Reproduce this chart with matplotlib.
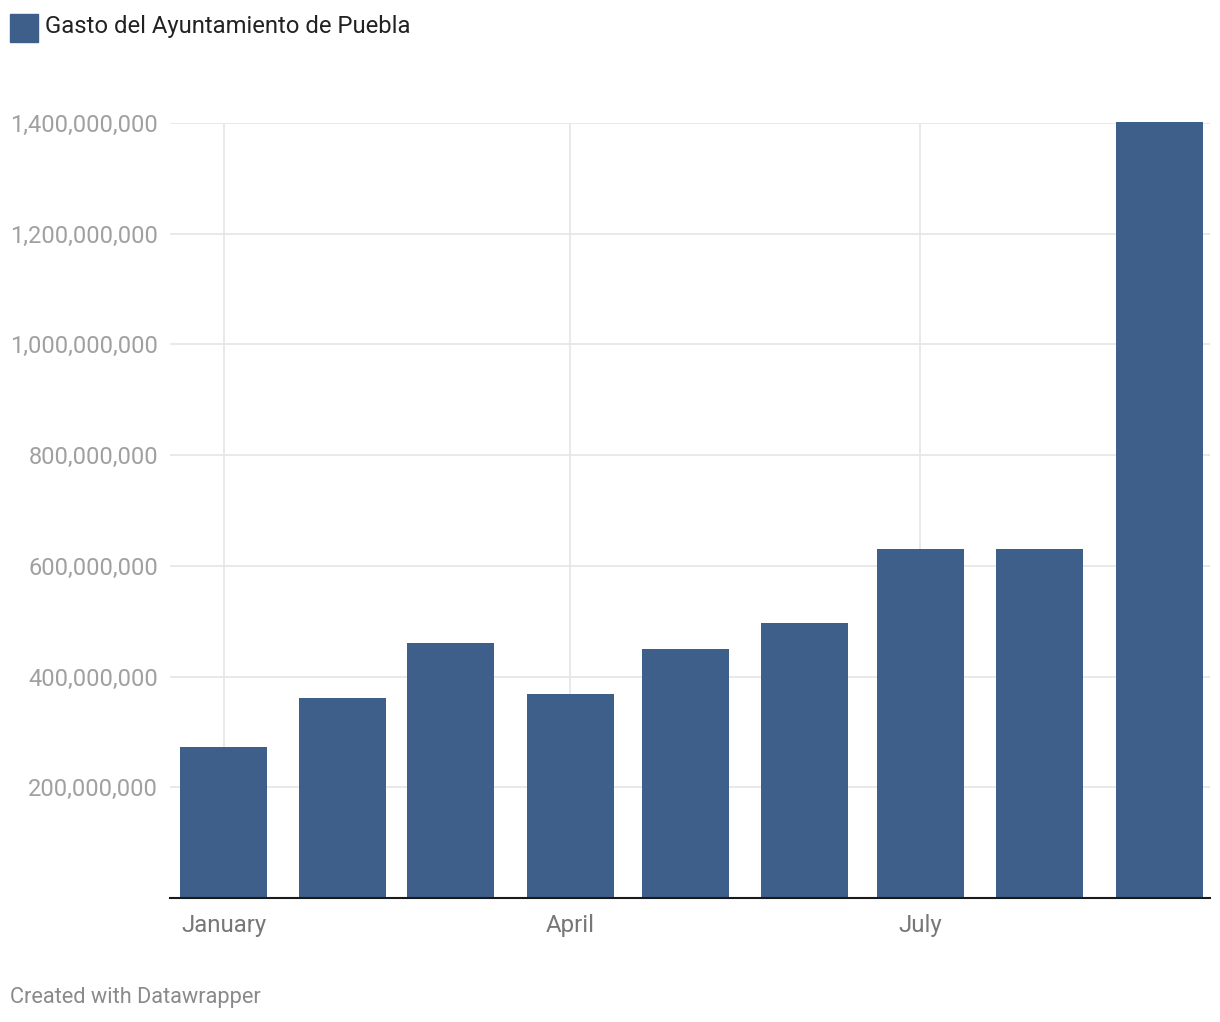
import numpy as np
import pandas as pd
import matplotlib
matplotlib.use("Agg")
import matplotlib.pyplot as plt
import matplotlib.dates as mdates
from matplotlib.ticker import FuncFormatter

plt.rcParams['font.family'] = ['Roboto', 'DejaVu Sans']

# data (monthly spending, pesos)
months = pd.to_datetime(['2019-01-01', '2019-02-01', '2019-03-01', '2019-04-01',
                         '2019-05-01', '2019-06-01', '2019-07-01', '2019-08-01',
                         '2019-09-01'])
gasto = [273e6, 361e6, 461e6, 368e6, 450e6, 497e6, 630e6, 630e6, 1402e6]
series_name = 'Gasto del Ayuntamiento de Puebla'
yticks = [200e6, 400e6, 600e6, 800e6, 1000e6, 1200e6, 1400e6]
xticks = pd.to_datetime(['2019-01-01', '2019-04-01', '2019-07-01'])
xtick_labels = ['January', 'April', 'July']

bar_color = '#3d5f8a'
W, H = 1220, 1022

fig = plt.figure(figsize=(W / 100, H / 100), dpi=100)
ax = fig.add_axes([170 / W, (H - 898) / H, 1040 / W, (898 - 123) / H])

ax.bar(months, gasto, width=22.6, color=bar_color, zorder=3, clip_on=False)

ax.set_xlim(mdates.date2num(pd.Timestamp('2018-12-18')) + 0.1,
            mdates.date2num(pd.Timestamp('2019-09-14')) + 0.2)
ax.set_ylim(0, 1.4e9)

ax.set_yticks(yticks)
ax.yaxis.set_major_formatter(FuncFormatter(lambda v, p: f'{v:,.0f}'))
ax.set_xticks(xticks)
ax.set_xticklabels(xtick_labels)

ax.grid(True, color='#e5e5e5', linewidth=1.2, zorder=0)
ax.set_axisbelow(True)
for s in ['top', 'right', 'left']:
    ax.spines[s].set_visible(False)
ax.spines['bottom'].set_color('#1a1a1a')
ax.spines['bottom'].set_linewidth(1.5)
ax.spines['bottom'].set_zorder(4)

ax.tick_params(axis='y', length=0, pad=8.6, labelsize=17, labelcolor='#a0a0a0')
ax.tick_params(axis='x', length=0, pad=11.5, labelsize=17.3, labelcolor='#777777')

# legend square + text
fig.patches.append(plt.Rectangle((10 / W, 1 - 42 / H), 28 / W, 28 / H,
                                 transform=fig.transFigure, color=bar_color))
fig.text(45 / W, 1 - 27 / H, series_name, fontsize=17.2, color='#222222',
         va='center', ha='left')

fig.text(10 / W, 1 - 997 / H, 'Created with Datawrapper', fontsize=15.7,
         color='#8a8a8a', va='center', ha='left')

fig.savefig('out.png', dpi=100)
